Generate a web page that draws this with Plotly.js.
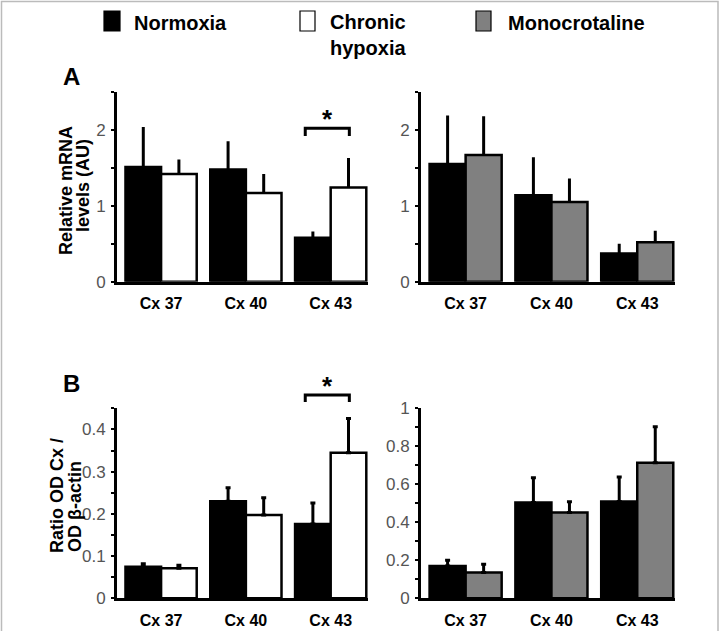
<!DOCTYPE html>
<html>
<head>
<meta charset="utf-8">
<script src="https://cdn.plot.ly/plotly-3.0.1.min.js"></script>
<style>html,body{margin:0;padding:0;background:#fff;}#chart{width:720px;height:631px;}</style>
</head>
<body>
<div id="chart"></div>
<script>
// ---- data ----
const categories = ['Cx 37', 'Cx 40', 'Cx 43'];
const seriesNames = ['Normoxia', 'Chronic hypoxia', 'Monocrotaline'];

// Panel A: relative mRNA levels (AU)
const mrnaNormoxiaH = [1.51, 1.48, 0.58];
const mrnaNormoxiaHErr = [0.53, 0.37, 0.08];
const mrnaHypoxia = [1.42, 1.17, 1.24];
const mrnaHypoxiaErr = [0.19, 0.25, 0.39];
const mrnaNormoxiaM = [1.55, 1.14, 0.37];
const mrnaNormoxiaMErr = [0.64, 0.50, 0.13];
const mrnaMonocrot = [1.67, 1.05, 0.52];
const mrnaMonocrotErr = [0.51, 0.31, 0.15];

// Panel B: ratio OD Cx / OD beta-actin
const protNormoxiaH = [0.075, 0.230, 0.176];
const protNormoxiaHErr = [0.007, 0.032, 0.050];
const protHypoxia = [0.071, 0.197, 0.345];
const protHypoxiaErr = [0.007, 0.041, 0.081];
const protNormoxiaM = [0.170, 0.504, 0.509];
const protNormoxiaMErr = [0.030, 0.130, 0.129];
const protMonocrot = [0.136, 0.452, 0.713];
const protMonocrotErr = [0.043, 0.056, 0.190];

const yTitleA = ['Relative mRNA', 'levels (AU)'];
const yTitleB = ['Ratio OD Cx /', 'OD \u03B2-actin'];

// ---- styling ----
const FONT = 'Liberation Sans, Arial, Helvetica, sans-serif';
const colors = ['#000000', '#ffffff', '#808080'];
const W = 720, H = 631;
const px = v => v / W;
const py = v => 1 - v / H;

function bar(y, err, idx, xa, ya, cap) {
  return {
    type: 'bar', x: categories, y: y, name: seriesNames[idx],
    xaxis: xa, yaxis: ya, showlegend: false,
    marker: {color: colors[idx], line: {color: '#000', width: 2.5}},
    error_y: {type: 'data', symmetric: false, array: err, arrayminus: err.map(() => 0),
              color: '#000', thickness: 3, width: cap},
    hoverinfo: 'x+y'
  };
}

const data = [
  bar(mrnaNormoxiaH, mrnaNormoxiaHErr, 0, 'x', 'y', 0),
  bar(mrnaHypoxia, mrnaHypoxiaErr, 1, 'x', 'y', 0),
  bar(mrnaNormoxiaM, mrnaNormoxiaMErr, 0, 'x2', 'y2', 0),
  bar(mrnaMonocrot, mrnaMonocrotErr, 2, 'x2', 'y2', 0),
  bar(protNormoxiaH, protNormoxiaHErr, 0, 'x3', 'y3', 2.5),
  bar(protHypoxia, protHypoxiaErr, 1, 'x3', 'y3', 2.5),
  bar(protNormoxiaM, protNormoxiaMErr, 0, 'x4', 'y4', 2.5),
  bar(protMonocrot, protMonocrotErr, 2, 'x4', 'y4', 2.5)
];

const xRange = [-0.52, 2.44];
function xax(domain, anchor) {
  return {
    domain: domain, anchor: anchor, type: 'category', range: xRange,
    showline: true, linecolor: '#000', linewidth: 3, ticks: '', showgrid: false,
    zeroline: false, fixedrange: true, ticklabelstandoff: 5,
    tickfont: {family: FONT, size: 16, color: '#000', weight: 'bold'}
  };
}
function yax(domain, anchor, range, dtick, minor) {
  return {
    domain: domain, anchor: anchor, range: range, dtick: dtick, tick0: 0,
    showline: true, linecolor: '#000', linewidth: 3, showgrid: false, zeroline: false,
    ticks: 'outside', ticklen: 3, tickwidth: 2, tickcolor: '#000',
    minor: {dtick: minor, ticks: 'outside', ticklen: 3, tickwidth: 2, tickcolor: '#000', showgrid: false},
    ticklabelstandoff: 2,
    tickfont: {family: FONT, size: 17, color: '#555'}, fixedrange: true
  };
}

const domAx = [px(117), px(368)];
const domBx = [px(421), px(675)];
const domAy = [py(281.7), py(92)];
const domBy = [py(598.3), py(408.3)];

function yTitle(text, xPix, yPix) {
  return {xref: 'paper', yref: 'paper', x: px(xPix), y: py(yPix), textangle: -90,
          xanchor: 'center', yanchor: 'middle', showarrow: false,
          text: text, font: {family: FONT, size: 18, weight: 'bold'}};
}

const layout = {
  width: W, height: H,
  margin: {l: 0, r: 0, t: 0, b: 0},
  paper_bgcolor: '#fff', plot_bgcolor: 'rgba(0,0,0,0)',
  barmode: 'group', bargap: 0.16, bargroupgap: 0,
  font: {family: FONT, color: '#000'},
  xaxis: xax(domAx, 'y'),
  yaxis: yax(domAy, 'x', [0, 2.5], 1, 0.5),
  xaxis2: xax(domBx, 'y2'),
  yaxis2: yax(domAy, 'x2', [0, 2.5], 1, 0.5),
  xaxis3: xax(domAx, 'y3'),
  yaxis3: yax(domBy, 'x3', [0, 0.45], 0.1, 0.05),
  xaxis4: xax(domBx, 'y4'),
  yaxis4: yax(domBy, 'x4', [0, 1.0], 0.2, 0.1),
  shapes: [
    // outer frame
    {type: 'rect', xref: 'paper', yref: 'paper', x0: px(1.5), x1: px(718), y0: -0.05, y1: py(1.5),
     line: {color: '#bbbbbb', width: 1.5}},
    // legend keys
    {type: 'rect', xref: 'paper', yref: 'paper', x0: px(104), x1: px(120), y0: py(31), y1: py(11),
     fillcolor: colors[0], line: {color: '#000', width: 1.2}},
    {type: 'rect', xref: 'paper', yref: 'paper', x0: px(300), x1: px(315), y0: py(31), y1: py(11),
     fillcolor: colors[1], line: {color: '#000', width: 1.2}},
    {type: 'rect', xref: 'paper', yref: 'paper', x0: px(476), x1: px(491), y0: py(31), y1: py(11),
     fillcolor: colors[2], line: {color: '#000', width: 1.2}},
    // significance brackets
    {type: 'path', xref: 'x', yref: 'y domain', path: 'M 1.70,0.768 L 1.70,0.809 L 2.22,0.809 L 2.22,0.768',
     line: {color: '#000', width: 3}},
    {type: 'path', xref: 'x3', yref: 'y3 domain', path: 'M 1.70,1.033 L 1.70,1.07 L 2.22,1.07 L 2.22,1.033',
     line: {color: '#000', width: 3}}
  ],
  annotations: [
    // legend labels
    {xref: 'paper', yref: 'paper', x: px(132), y: py(23), xanchor: 'left', yanchor: 'middle', showarrow: false,
     text: seriesNames[0], font: {family: FONT, size: 20, weight: 'bold'}},
    {xref: 'paper', yref: 'paper', x: px(328), y: py(9), xanchor: 'left', yanchor: 'top', align: 'left', showarrow: false,
     text: seriesNames[1].replace(' ', '<br>'), font: {family: FONT, size: 20, weight: 'bold'}},
    {xref: 'paper', yref: 'paper', x: px(506), y: py(23), xanchor: 'left', yanchor: 'middle', showarrow: false,
     text: seriesNames[2], font: {family: FONT, size: 20, weight: 'bold'}},
    // panel letters
    {xref: 'paper', yref: 'paper', x: px(71), y: py(77), xanchor: 'center', yanchor: 'middle', showarrow: false,
     text: 'A', font: {family: FONT, size: 24, weight: 'bold'}},
    {xref: 'paper', yref: 'paper', x: px(71), y: py(383), xanchor: 'center', yanchor: 'middle', showarrow: false,
     text: 'B', font: {family: FONT, size: 24, weight: 'bold'}},
    // y titles
    yTitle(yTitleA[0], 66, 191),
    yTitle(yTitleA[1], 83, 186),
    yTitle(yTitleB[0], 57, 496),
    yTitle(yTitleB[1], 75, 507),
    // significance stars
    {xref: 'x', yref: 'y domain', x: 1.96, y: 0.86, xanchor: 'center', yanchor: 'middle', showarrow: false,
     text: '*', font: {family: FONT, size: 26, weight: 'bold'}},
    {xref: 'x3', yref: 'y3 domain', x: 1.96, y: 1.12, xanchor: 'center', yanchor: 'middle', showarrow: false,
     text: '*', font: {family: FONT, size: 26, weight: 'bold'}}
  ]
};

Plotly.newPlot('chart', data, layout, {displayModeBar: false, staticPlot: true});
</script>
</body>
</html>
